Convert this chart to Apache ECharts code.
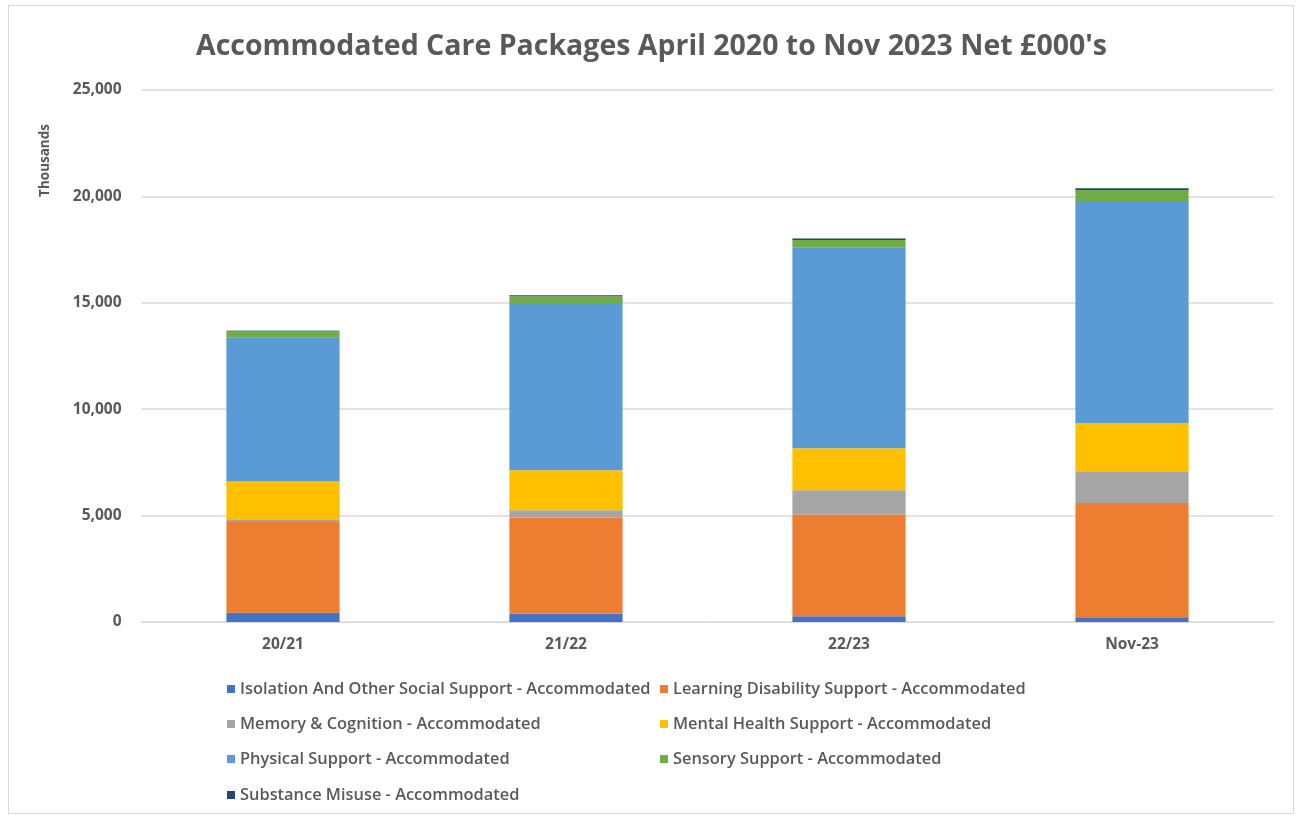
<!DOCTYPE html>
<html>
<head>
<meta charset="utf-8">
<script src="https://cdn.jsdelivr.net/npm/echarts@6/dist/echarts.min.js"></script>
<style>
html,body{margin:0;padding:0;background:#fff;}
#frame{position:absolute;left:8px;top:5px;width:1286px;height:809px;border:1px solid #d9d9d9;box-sizing:border-box;}
#c{position:absolute;left:0;top:0;width:1303px;height:819px;}
</style>
</head>
<body>
<div id="frame"></div>
<div id="c"></div>
<script>
const categories = ['20/21', '21/22', '22/23', 'Nov-23'];
const isolation = [440, 390, 270, 220];
const learningDisability = [4260, 4520, 4780, 5370];
const memory = [130, 340, 1140, 1490];
const mentalHealth = [1770, 1880, 1970, 2260];
const physical = [6760, 7860, 9430, 10440];
const sensory = [330, 320, 360, 520];
const substance = [10, 40, 70, 80];
const yTicks = [0, 5000, 10000, 15000, 20000, 25000];

const seriesDefs = [
  ['Isolation And Other Social Support - Accommodated', isolation, '#4472C4'],
  ['Learning Disability Support - Accommodated', learningDisability, '#ED7D31'],
  ['Memory & Cognition - Accommodated', memory, '#A5A5A5'],
  ['Mental Health Support - Accommodated', mentalHealth, '#FFC000'],
  ['Physical Support - Accommodated', physical, '#5B9BD5'],
  ['Sensory Support - Accommodated', sensory, '#70AD47'],
  ['Substance Misuse - Accommodated', substance, '#264478']
];
const legendPos = [[222,676],[655,676],[222,711],[655,711],[222,746],[655,746],[222,782]];
const fontFam = '"Open Sans", "Noto Sans", sans-serif';

const chart = echarts.init(document.getElementById('c'));
chart.setOption({
  animation: false,
  title: {
    text: "Accommodated Care Packages April 2020 to Nov 2023 Net £000's",
    left: 'center', top: 27,
    textStyle: {fontFamily: fontFam, fontSize: 28.5, fontWeight: 'bold', color: '#595959'}
  },
  grid: {left: 141.5, right: 29.5, top: 90, bottom: 197, containLabel: false},
  legend: seriesDefs.map((s, i) => ({
    data: [s[0]], left: legendPos[i][0], top: legendPos[i][1],
    itemWidth: 8, itemHeight: 8, itemGap: 5, icon: 'rect',
    textStyle: {fontFamily: fontFam, fontSize: 16.4, color: '#595959', fontWeight: 600}
  })),
  xAxis: {
    type: 'category', data: categories,
    axisLine: {show: true, lineStyle: {color: '#d9d9d9', width: 1}},
    axisTick: {show: false},
    axisLabel: {fontFamily: fontFam, fontSize: 15.5, fontWeight: 'bold', color: '#595959', margin: 15}
  },
  yAxis: {
    type: 'value', min: 0, max: 25000, interval: 5000,
    axisLine: {show: false}, axisTick: {show: false},
    splitLine: {lineStyle: {color: '#d9d9d9', width: 1.5}},
    axisLabel: {fontFamily: fontFam, fontSize: 15.5, fontWeight: 'bold', color: '#595959', margin: 20,
      formatter: v => yTicks.includes(v) ? v.toLocaleString('en-GB') : ''}
  },
  graphic: [{
    type: 'text', left: 38, top: 124, rotation: Math.PI / 2,
    style: {text: 'Thousands', fontFamily: fontFam, fontSize: 13.5, fontWeight: 'bold', fill: '#595959'}
  }],
  series: seriesDefs.map(s => ({
    name: s[0], type: 'bar', stack: 'total', data: s[1], barWidth: '40%',
    itemStyle: {color: s[2]}
  }))
});
</script>
</body>
</html>
